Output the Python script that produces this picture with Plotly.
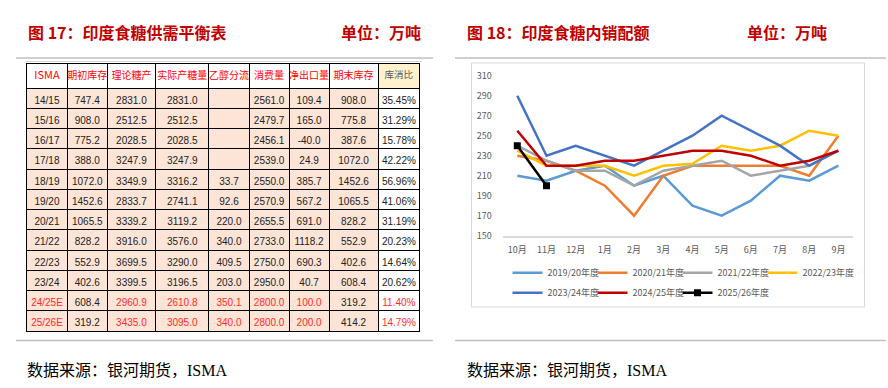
import plotly.graph_objects as go

W, H = 888, 388
def px(x): return x / W
def py(y): return 1 - y / H

# ---------------- Table data (图17) ----------------
tbl_header = ["ISMA", "期初库存", "理论糖产", "实际产糖量", "乙醇分流", "消费量", "净出口量", "期末库存", "库消比"]
seasons = ["14/15", "15/16", "16/17", "17/18", "18/19", "19/20", "20/21", "21/22", "22/23", "23/24", "24/25E", "25/26E"]
opening_stock = ["747.4", "908.0", "775.2", "388.0", "1072.0", "1452.6", "1065.5", "828.2", "552.9", "402.6", "608.4", "319.2"]
theory_prod = ["2831.0", "2512.5", "2028.5", "3247.9", "3349.9", "2833.7", "3339.2", "3916.0", "3699.5", "3399.5", "2960.9", "3435.0"]
actual_prod = ["2831.0", "2512.5", "2028.5", "3247.9", "3316.2", "2741.1", "3119.2", "3576.0", "3290.0", "3196.5", "2610.8", "3095.0"]
ethanol = ["", "", "", "", "33.7", "92.6", "220.0", "340.0", "409.5", "203.0", "350.1", "340.0"]
consumption = ["2561.0", "2479.7", "2456.1", "2539.0", "2550.0", "2570.9", "2655.5", "2733.0", "2750.0", "2950.0", "2800.0", "2800.0"]
net_export = ["109.4", "165.0", "-40.0", "24.9", "385.7", "567.2", "691.0", "1118.2", "690.3", "40.7", "100.0", "200.0"]
ending_stock = ["908.0", "775.8", "387.6", "1072.0", "1452.6", "1065.5", "828.2", "552.9", "402.6", "608.4", "319.2", "414.2"]
stock_ratio = ["35.45%", "31.29%", "15.78%", "42.22%", "56.96%", "41.06%", "31.19%", "20.23%", "14.64%", "20.62%", "11.40%", "14.79%"]
estimate_rows = ["24/25E", "25/26E"]

# ---------------- Line chart data (图18) ----------------
months = ["10月", "11月", "12月", "1月", "2月", "3月", "4月", "5月", "6月", "7月", "8月", "9月"]
s2019 = [210, 205, 215, 220, 200, 210, 180, 170, 185, 210, 205, 220]
s2020 = [230, 225, 215, 200, 170, 210, 220, 220, 220, 220, 210, 250]
s2021 = [240, 225, 215, 215, 200, 215, 220, 225, 210, 215, 220, None]
s2022 = [235, 220, 220, 220, 210, 220, 222, 240, 235, 240, 255, 250]
s2023 = [290, 230, 240, 230, 220, 235, 250, 270, 255, 240, 220, 235]
s2024 = [255, 220, 220, 225, 225, 230, 235, 235, 230, 220, 225, 235]
s2025 = [240, 200, None, None, None, None, None, None, None, None, None, None]

series = [
    ("2019/20年度", s2019, "#5B9BD5"),
    ("2020/21年度", s2020, "#ED7D31"),
    ("2021/22年度", s2021, "#A5A5A5"),
    ("2022/23年度", s2022, "#FFC000"),
    ("2023/24年度", s2023, "#4472C4"),
    ("2024/25年度", s2024, "#C00000"),
    ("2025/26年度", s2025, "#000000"),
]

fig = go.Figure()

# ---- table ----
cols = [seasons, opening_stock, theory_prod, actual_prod, ethanol, consumption, net_export, ending_stock, stock_ratio]
RED = "#FF2B2B"
DARK = "#222222"
black_cols = {1, 7}
font_colors = []
fill_colors = []
for ci, col in enumerate(cols):
    fc = []
    for s in seasons:
        if s in estimate_rows and ci not in black_cols:
            fc.append(RED)
        else:
            fc.append(DARK)
    font_colors.append(fc)
    fill_colors.append(["#FFFFFF"] * len(seasons) if ci == 8 else ["#FCE4D6"] * len(seasons))

col_edges = [26.7, 67.3, 107.3, 155.7, 209, 249.3, 289.3, 329.3, 378.3, 420]
col_widths = [col_edges[i + 1] - col_edges[i] for i in range(9)]

fig.add_trace(go.Table(
    domain=dict(x=[px(26.7), px(420)], y=[0, py(63)]),
    columnwidth=col_widths,
    header=dict(
        values=tbl_header,
        height=25,
        align="center",
        fill_color=["#FFFFFF"] * 8 + ["#FFF2CC"],
        line=dict(color="#000000", width=1),
        font=dict(family="Noto Sans CJK SC", size=[11] + [10] * 7 + [9.5],
                  color=["#FF0000"] * 8 + ["#595959"]),
    ),
    cells=dict(
        values=cols,
        height=20.25,
        align="center",
        fill_color=fill_colors,
        line=dict(color="#000000", width=1),
        font=dict(family="Liberation Sans Narrow, Liberation Sans, Arial", size=10, color=font_colors),
    ),
))

# ---- line chart ----
for i, (name, vals, color) in enumerate(series):
    is_new = name.startswith("2025/26")
    fig.add_trace(go.Scatter(
        x=months, y=vals, name=name, mode="lines+markers" if is_new else "lines",
        line=dict(color=color, width=2.5),
        marker=dict(symbol="square", size=7, color=color),
        connectgaps=False,
        legend="legend" if i < 4 else "legend2",
        legendwidth=60 if i in (3, 6) else None,
    ))

legend_common = dict(orientation="h", xref="paper", yref="paper", xanchor="left", yanchor="middle",
                     font=dict(size=9, color="#595959"), entrywidth=40, entrywidthmode="pixels",
                     itemwidth=30, bgcolor="rgba(0,0,0,0)", borderwidth=0)

fig.update_layout(
    width=W, height=H, autosize=False,
    margin=dict(l=0, r=0, t=0, b=0, pad=0, autoexpand=False),
    paper_bgcolor="white", plot_bgcolor="white",
    font=dict(family="Noto Sans CJK SC, Liberation Sans", color="#595959"),
    xaxis=dict(domain=[px(502.7), px(853)], type="category", categoryorder="array", categoryarray=months,
               range=[-0.5, 11.5], showgrid=False, showline=True, linecolor="#D9D9D9", linewidth=1.5,
               ticks="", tickfont=dict(size=9, color="#595959"), ticklabelstandoff=5, fixedrange=True),
    yaxis=dict(domain=[py(235.7), py(75.7)], range=[150, 310], dtick=20, tick0=150, showgrid=False,
               zeroline=False, showline=False, ticks="", tickfont=dict(size=9, color="#595959"),
               ticklabelstandoff=10, fixedrange=True),
    legend=dict(x=px(507.5), y=py(272.7), **legend_common),
    legend2=dict(x=px(507.5), y=py(292.7), **legend_common),
    showlegend=True,
)

shapes = [
    dict(type="line", xref="paper", yref="paper", x0=px(16), x1=px(433), y0=py(58), y1=py(58),
         line=dict(color="#BFBFBF", width=1.5)),
    dict(type="line", xref="paper", yref="paper", x0=px(455), x1=px(886), y0=py(58), y1=py(58),
         line=dict(color="#BFBFBF", width=1.5)),
    dict(type="line", xref="paper", yref="paper", x0=px(26), x1=px(422), y0=py(61.5), y1=py(61.5),
         line=dict(color="#D6D6D6", width=1)),
    dict(type="line", xref="paper", yref="paper", x0=px(16), x1=px(433), y0=py(340.5), y1=py(340.5),
         line=dict(color="#BFBFBF", width=1.5)),
    dict(type="line", xref="paper", yref="paper", x0=px(455), x1=px(886), y0=py(340.5), y1=py(340.5),
         line=dict(color="#BFBFBF", width=1.5)),
    dict(type="rect", xref="paper", yref="paper", x0=px(471.5), x1=px(864.5), y0=py(307), y1=py(63),
         line=dict(color="#D9D9D9", width=1), layer="below"),
]
fig.update_layout(shapes=shapes)

title_font = dict(family="Noto Sans CJK SC", size=16, color="#C00000")
src_font = dict(family="Liberation Serif, Noto Sans CJK SC", size=16, color="#000000")
annotations = [
    dict(text="<b>图 17：印度食糖供需平衡表</b>", x=px(26), y=py(32), xanchor="left", yanchor="middle", font=title_font),
    dict(text="<b>单位：万吨</b>", x=px(339), y=py(32), xanchor="left", yanchor="middle", font=title_font),
    dict(text="<b>图 18：印度食糖内销配额</b>", x=px(465), y=py(32), xanchor="left", yanchor="middle", font=title_font),
    dict(text="<b>单位：万吨</b>", x=px(745), y=py(32), xanchor="left", yanchor="middle", font=title_font),
    dict(text="数据来源：银河期货，ISMA", x=px(25), y=py(370), xanchor="left", yanchor="middle", font=src_font),
    dict(text="数据来源：银河期货，ISMA", x=px(465), y=py(370), xanchor="left", yanchor="middle", font=src_font),
]
for a in annotations:
    a.update(xref="paper", yref="paper", showarrow=False)
fig.update_layout(annotations=annotations)

fig.write_html("out.html", config={"displayModeBar": False},
               post_script="document.body.style.margin='0px';")
